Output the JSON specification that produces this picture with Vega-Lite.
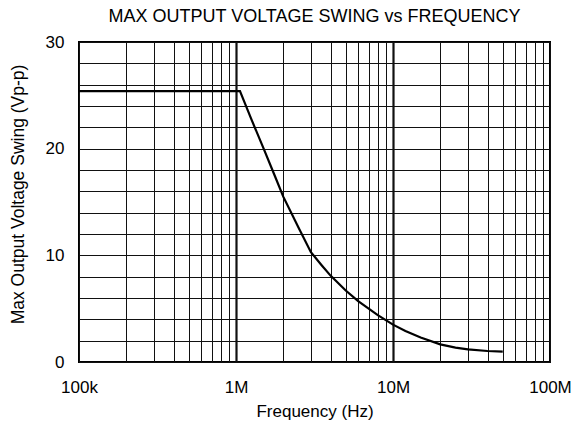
{
  "$schema": "https://vega.github.io/schema/vega-lite/v6.json",
  "width": 471,
  "height": 320,
  "autosize": "none",
  "padding": {"left": 79, "top": 42, "right": 22, "bottom": 66},
  "background": "white",
  "title": {
    "text": "MAX OUTPUT VOLTAGE SWING vs FREQUENCY",
    "font": "Liberation Sans",
    "fontSize": 18,
    "fontWeight": "normal",
    "color": "#000",
    "anchor": "middle",
    "frame": "group",
    "baseline": "alphabetic",
    "offset": -7
  },
  "config": {
    "view": {"stroke": "#000", "strokeWidth": 2},
    "axis": {
      "labelFont": "Liberation Sans",
      "titleFont": "Liberation Sans",
      "labelFontSize": 17,
      "titleFontSize": 17,
      "titleFontWeight": "normal",
      "labelColor": "#000",
      "titleColor": "#000",
      "domain": false,
      "ticks": false,
      "labelFlush": false,
      "labelOverlap": false,
      "labelBound": false,
      "gridColor": "#111",
      "gridOpacity": 1
    }
  },
  "data": {
    "values": [
      {"f": 100000, "v": 25.4},
      {"f": 1060000, "v": 25.4},
      {"f": 1250000, "v": 22.8},
      {"f": 1500000, "v": 20.0},
      {"f": 1750000, "v": 17.6},
      {"f": 2000000, "v": 15.5},
      {"f": 2500000, "v": 12.6},
      {"f": 3000000, "v": 10.3},
      {"f": 3500000, "v": 9.1},
      {"f": 4000000, "v": 8.1},
      {"f": 5000000, "v": 6.7},
      {"f": 6000000, "v": 5.7},
      {"f": 7000000, "v": 5.0},
      {"f": 8000000, "v": 4.4},
      {"f": 10000000, "v": 3.5},
      {"f": 12000000, "v": 2.9},
      {"f": 15000000, "v": 2.3},
      {"f": 20000000, "v": 1.65},
      {"f": 25000000, "v": 1.35},
      {"f": 30000000, "v": 1.18},
      {"f": 40000000, "v": 1.03},
      {"f": 50000000, "v": 0.98}
    ]
  },
  "mark": {"type": "line", "color": "#000", "strokeWidth": 2.2, "clip": true},
  "encoding": {
    "x": {
      "field": "f",
      "type": "quantitative",
      "scale": {"type": "log", "domain": [100000, 100000000], "nice": false},
      "axis": {
        "title": "Frequency (Hz)",
        "titlePadding": 8,
        "labelPadding": 17,
        "values": [100000, 200000, 300000, 400000, 500000, 600000, 700000, 800000, 900000, 1000000, 2000000, 3000000, 4000000, 5000000, 6000000, 7000000, 8000000, 9000000, 10000000, 20000000, 30000000, 40000000, 50000000, 60000000, 70000000, 80000000, 90000000, 100000000],
        "labelExpr": "datum.value == 100000 ? '100k' : datum.value == 1000000 ? '1M' : datum.value == 10000000 ? '10M' : datum.value == 100000000 ? '100M' : ''",
        "gridWidth": {"condition": {"test": "datum.value == 1000000 || datum.value == 10000000", "value": 2.2}, "value": 1}
      }
    },
    "y": {
      "field": "v",
      "type": "quantitative",
      "scale": {"domain": [0, 30], "nice": false, "zero": true},
      "axis": {
        "title": "Max Output Voltage Swing (Vp-p)",
        "titleFontSize": 17.5,
        "titlePadding": 18,
        "titleY": 152,
        "labelPadding": 15,
        "values": [0, 2, 4, 6, 8, 10, 12, 14, 16, 18, 20, 22, 24, 26, 28, 30],
        "labelExpr": "datum.value % 10 == 0 ? datum.label : ''",
        "gridWidth": 1
      }
    }
  }
}
